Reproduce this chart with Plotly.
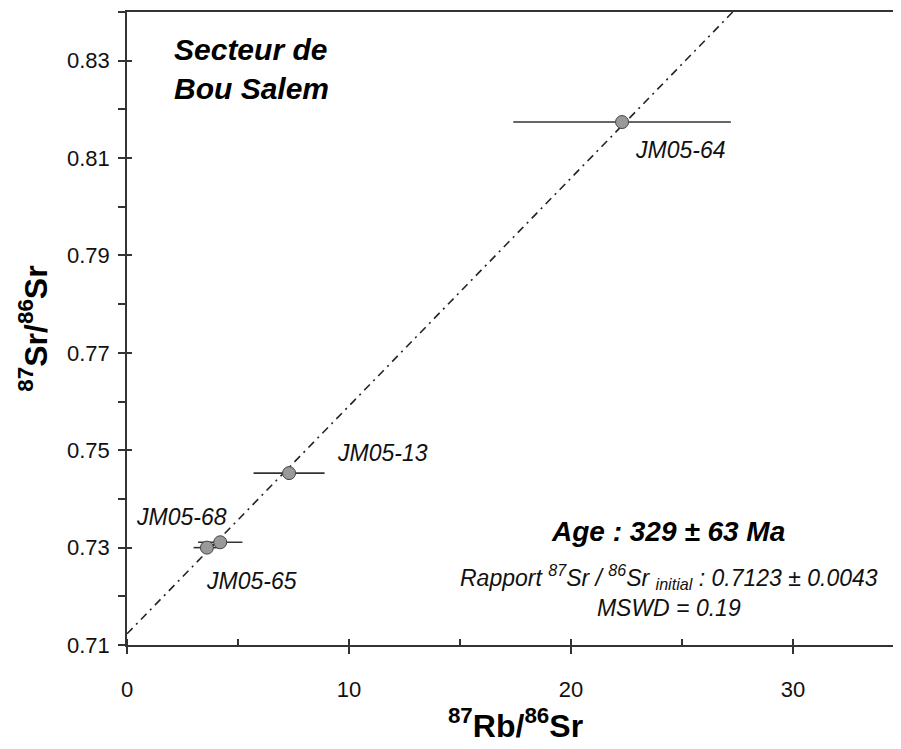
import plotly.graph_objects as go

# Data
samples = ["JM05-64", "JM05-13", "JM05-68", "JM05-65"]
rb_sr = [22.3, 7.3, 4.2, 3.6]
rb_sr_err = [4.9, 1.6, 1.0, 0.6]
sr_sr = [0.8174, 0.7453, 0.7311, 0.7300]
label_x = [24.9, 11.5, 2.45, 5.6]
label_y = [0.8117, 0.7494, 0.7362, 0.7232]

intercept = 0.7123
slope = 0.00468
line_x = [0.0, 35.0]
line_y = [intercept + slope * v for v in line_x]

x_ticks = [0, 10, 20, 30]
y_ticks = [0.71, 0.73, 0.75, 0.77, 0.79, 0.81, 0.83]
y_tick_text = ["0.71", "0.73", "0.75", "0.77", "0.79", "0.81", "0.83"]

FONT = "Arial, Liberation Sans, sans-serif"

fig = go.Figure()
fig.add_trace(go.Scatter(x=line_x, y=line_y, mode="lines",
                         line=dict(color="#222", width=1.6, dash="8px,5px,2px,5px"),
                         hoverinfo="skip", showlegend=False))
fig.add_trace(go.Scatter(x=rb_sr, y=sr_sr, mode="markers",
                         error_x=dict(type="data", array=rb_sr_err, color="#333",
                                      thickness=1.6, width=0),
                         marker=dict(size=13, color="#999999",
                                     line=dict(color="#444", width=1)),
                         showlegend=False))
# Sample labels
for s, lx, ly in zip(samples, label_x, label_y):
    fig.add_annotation(x=lx, y=ly, text="<i>" + s + "</i>", showarrow=False,
                       font=dict(family=FONT, size=23, color="#111"),
                       xanchor="center", yanchor="middle")

fig.add_annotation(xref="paper", yref="paper", x=0.058, y=0.970,
                   text="<b><i>Secteur de<br>Bou Salem</i></b>", showarrow=False,
                   align="left", xanchor="left", yanchor="top",
                   font=dict(family=FONT, size=30, color="#000"))
fig.add_annotation(xref="paper", yref="paper", x=0.696, y=0.180,
                   text="<b><i>Age : 329 ± 63 Ma</i></b>", showarrow=False,
                   xanchor="center", yanchor="middle",
                   font=dict(family=FONT, size=28, color="#000"))
fig.add_annotation(xref="paper", yref="paper", x=0.697, y=0.085,
                   text="<i>Rapport <sup>87</sup>Sr / <sup>86</sup>Sr <sub>initial</sub> : 0.7123 ± 0.0043<br>MSWD = 0.19</i>",
                   showarrow=False, xanchor="center", yanchor="middle", align="center",
                   font=dict(family=FONT, size=23, color="#111"))

axis_common = dict(showgrid=False, zeroline=False, showline=True, automargin=False,
                   linecolor="#333", linewidth=1.5, tickcolor="#333", tickwidth=1.5,
                   tickfont=dict(family=FONT, size=22, color="#111"))

fig.update_layout(
    width=901, height=749,
    margin=dict(l=119, r=5, t=4, b=112),
    plot_bgcolor="white", paper_bgcolor="white",
    xaxis=dict(range=[0, 35], tickvals=x_ticks, ticks="outside", ticklen=7,
               mirror=True, ticklabelstandoff=17,
               minor=dict(dtick=5, tick0=0, ticks="inside", ticklen=6, tickcolor="#333", tickwidth=1.5),
               title=dict(text="<b><sup>87</sup>Rb/<sup>86</sup>Sr</b>",
                          font=dict(family=FONT, size=32, color="#000"), standoff=13),
               **axis_common),
    yaxis=dict(range=[0.71, 0.84], tickvals=y_ticks, ticktext=y_tick_text,
               ticks="outside", ticklen=7, ticklabelstandoff=4,
               minor=dict(dtick=0.01, tick0=0.71, ticks="outside", ticklen=7, tickcolor="#333", tickwidth=1.5),
               title=dict(text="<b><sup>87</sup>Sr/<sup>86</sup>Sr</b>",
                          font=dict(family=FONT, size=32, color="#000"), standoff=10),
               **axis_common),
    xaxis2=dict(range=[0, 35], tickvals=x_ticks, ticks="inside", ticklen=6,
                overlaying="x", anchor="y", side="bottom", showticklabels=False,
                showgrid=False, zeroline=False, showline=False,
                tickcolor="#333", tickwidth=1.5),
    yaxis2=dict(range=[0.71, 0.84], tickvals=y_ticks, ticks="inside", ticklen=5,
                overlaying="y", anchor="x", side="left", showticklabels=False,
                showgrid=False, zeroline=False, showline=False,
                tickcolor="#333", tickwidth=1.5),
)
# dummy trace to activate secondary axes
fig.add_trace(go.Scatter(x=[None], y=[None], xaxis="x2", yaxis="y2", showlegend=False))

fig.write_html("out.html")
